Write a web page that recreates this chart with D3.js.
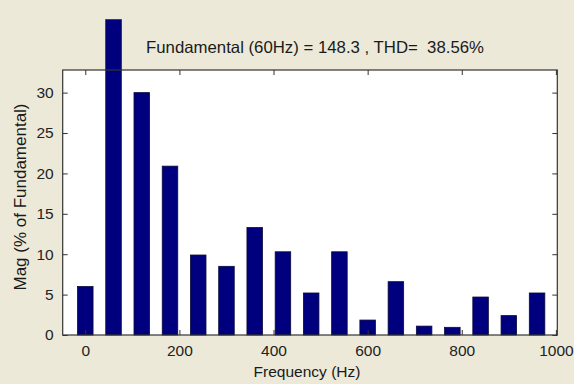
<!DOCTYPE html>
<html>
<head>
<meta charset="utf-8">
<script src="https://cdn.jsdelivr.net/npm/d3@7"></script>
<style>
  body { margin: 0; background: #ece9d8; }
  svg { display: block; }
  text { font-family: "Liberation Sans", Arial, sans-serif; fill: #1a1a1a; }
</style>
</head>
<body>
<svg class="canvas"></svg>
<script>
/*
	FFT harmonic spectrum, bar chart like the MATLAB powergui one
*/

var width = 574;
var height = 384;
var pad = {left: 62.7, right: 16.7, top: 70, bottom: 49};

// harmonic frequencies (Hz) and magnitudes (% of fundamental)
var freqs = [0, 60, 120, 180, 240, 300, 360, 420, 480, 540, 600, 660, 720, 780, 840, 900, 960];
var mags  = [6.0, 100, 30.0, 20.9, 9.9, 8.5, 13.3, 10.3, 5.2, 10.3, 1.85, 6.6, 1.1, 0.95, 4.7, 2.4, 5.2];

var xticks = [0, 200, 400, 600, 800, 1000];
var yticks = [0, 5, 10, 15, 20, 25, 30];

var titleText = "Fundamental (60Hz) = 148.3 , THD=  38.56%";
var xLabel = "Frequency (Hz)";
var yLabel = "Mag (% of Fundamental)";

var canv = d3.select(".canvas").attr("width", width).attr("height", height);

// Scales
var sx = d3.scaleLinear().domain([-48, 1003]).range([pad.left, width - pad.right]);
var sy = d3.scaleLinear().domain([0, 32.8]).range([height - pad.bottom, pad.top]);
var barW = 0.55 * 60; // Hz

// plot background
canv.append("rect")
	.attr("x", pad.left).attr("y", pad.top)
	.attr("width", width - pad.left - pad.right)
	.attr("height", height - pad.top - pad.bottom)
	.style("fill", "#fff");

// the fundamental bar runs out of the axes, cut at the window top
canv.append("clipPath").attr("id", "clip")
	.append("rect").attr("x", 0).attr("y", 19.3).attr("width", width).attr("height", height);

canv.append("g").attr("clip-path", "url(#clip)")
	.selectAll("rect")
	.data(freqs)
	.enter()
	.append("rect")
	.attr("x", function(d) { return sx(d - barW / 2); })
	.attr("width", function(d) { return sx(barW) - sx(0); })
	.attr("y", function(d, i) { return sy(mags[i]); })
	.attr("height", function(d, i) { return sy(0) - sy(mags[i]); })
	.style("fill", "#00007f")
	.style("stroke", "#0a0a3a")
	.style("stroke-width", 0.8);

// Axes, ticks inside on all four sides
var axB = d3.axisBottom(sx).tickValues(xticks).tickSize(-5).tickPadding(10).tickFormat(d3.format("d"));
var axT = d3.axisTop(sx).tickValues(xticks).tickSize(-5).tickFormat("");
var axL = d3.axisLeft(sy).tickValues(yticks).tickSize(-5).tickPadding(9).tickFormat(d3.format("d"));
var axR = d3.axisRight(sy).tickValues(yticks).tickSize(-5).tickFormat("");

function styleAxis(g) {
	g.select(".domain").remove();
	g.selectAll(".tick line").style("stroke", "#333");
	g.selectAll(".tick text").style("font-size", "15.5px").style("fill", "#222")
		.style("font-family", "'Liberation Sans', Arial, sans-serif");
}

canv.append("g").attr("transform", "translate(0," + (height - pad.bottom) + ")").call(axB).call(styleAxis);
canv.append("g").attr("transform", "translate(0," + pad.top + ")").call(axT).call(styleAxis);
canv.append("g").attr("transform", "translate(" + pad.left + ",0)").call(axL).call(styleAxis);
canv.append("g").attr("transform", "translate(" + (width - pad.right) + ",0)").call(axR).call(styleAxis);

// frame
canv.append("rect")
	.attr("x", pad.left).attr("y", pad.top)
	.attr("width", width - pad.left - pad.right)
	.attr("height", height - pad.top - pad.bottom)
	.style("fill", "none").style("stroke", "#333").style("stroke-width", 1.2);

// texts
canv.append("text")
	.attr("x", 146).attr("y", 53)
	.attr("font-size", "16.5px")
	.attr("textLength", 338)
	.attr("lengthAdjust", "spacingAndGlyphs")
	.style("white-space", "pre")
	.text(titleText);

canv.append("text")
	.attr("x", (pad.left + width - pad.right) / 2 - 3)
	.attr("y", 377)
	.attr("font-size", "15.5px")
	.style("text-anchor", "middle")
	.text(xLabel);

canv.append("text")
	.attr("transform", "translate(25.5,197) rotate(-90)")
	.attr("font-size", "16px")
	.attr("textLength", 187)
	.attr("lengthAdjust", "spacingAndGlyphs")
	.style("text-anchor", "middle")
	.text(yLabel);
</script>
</body>
</html>
